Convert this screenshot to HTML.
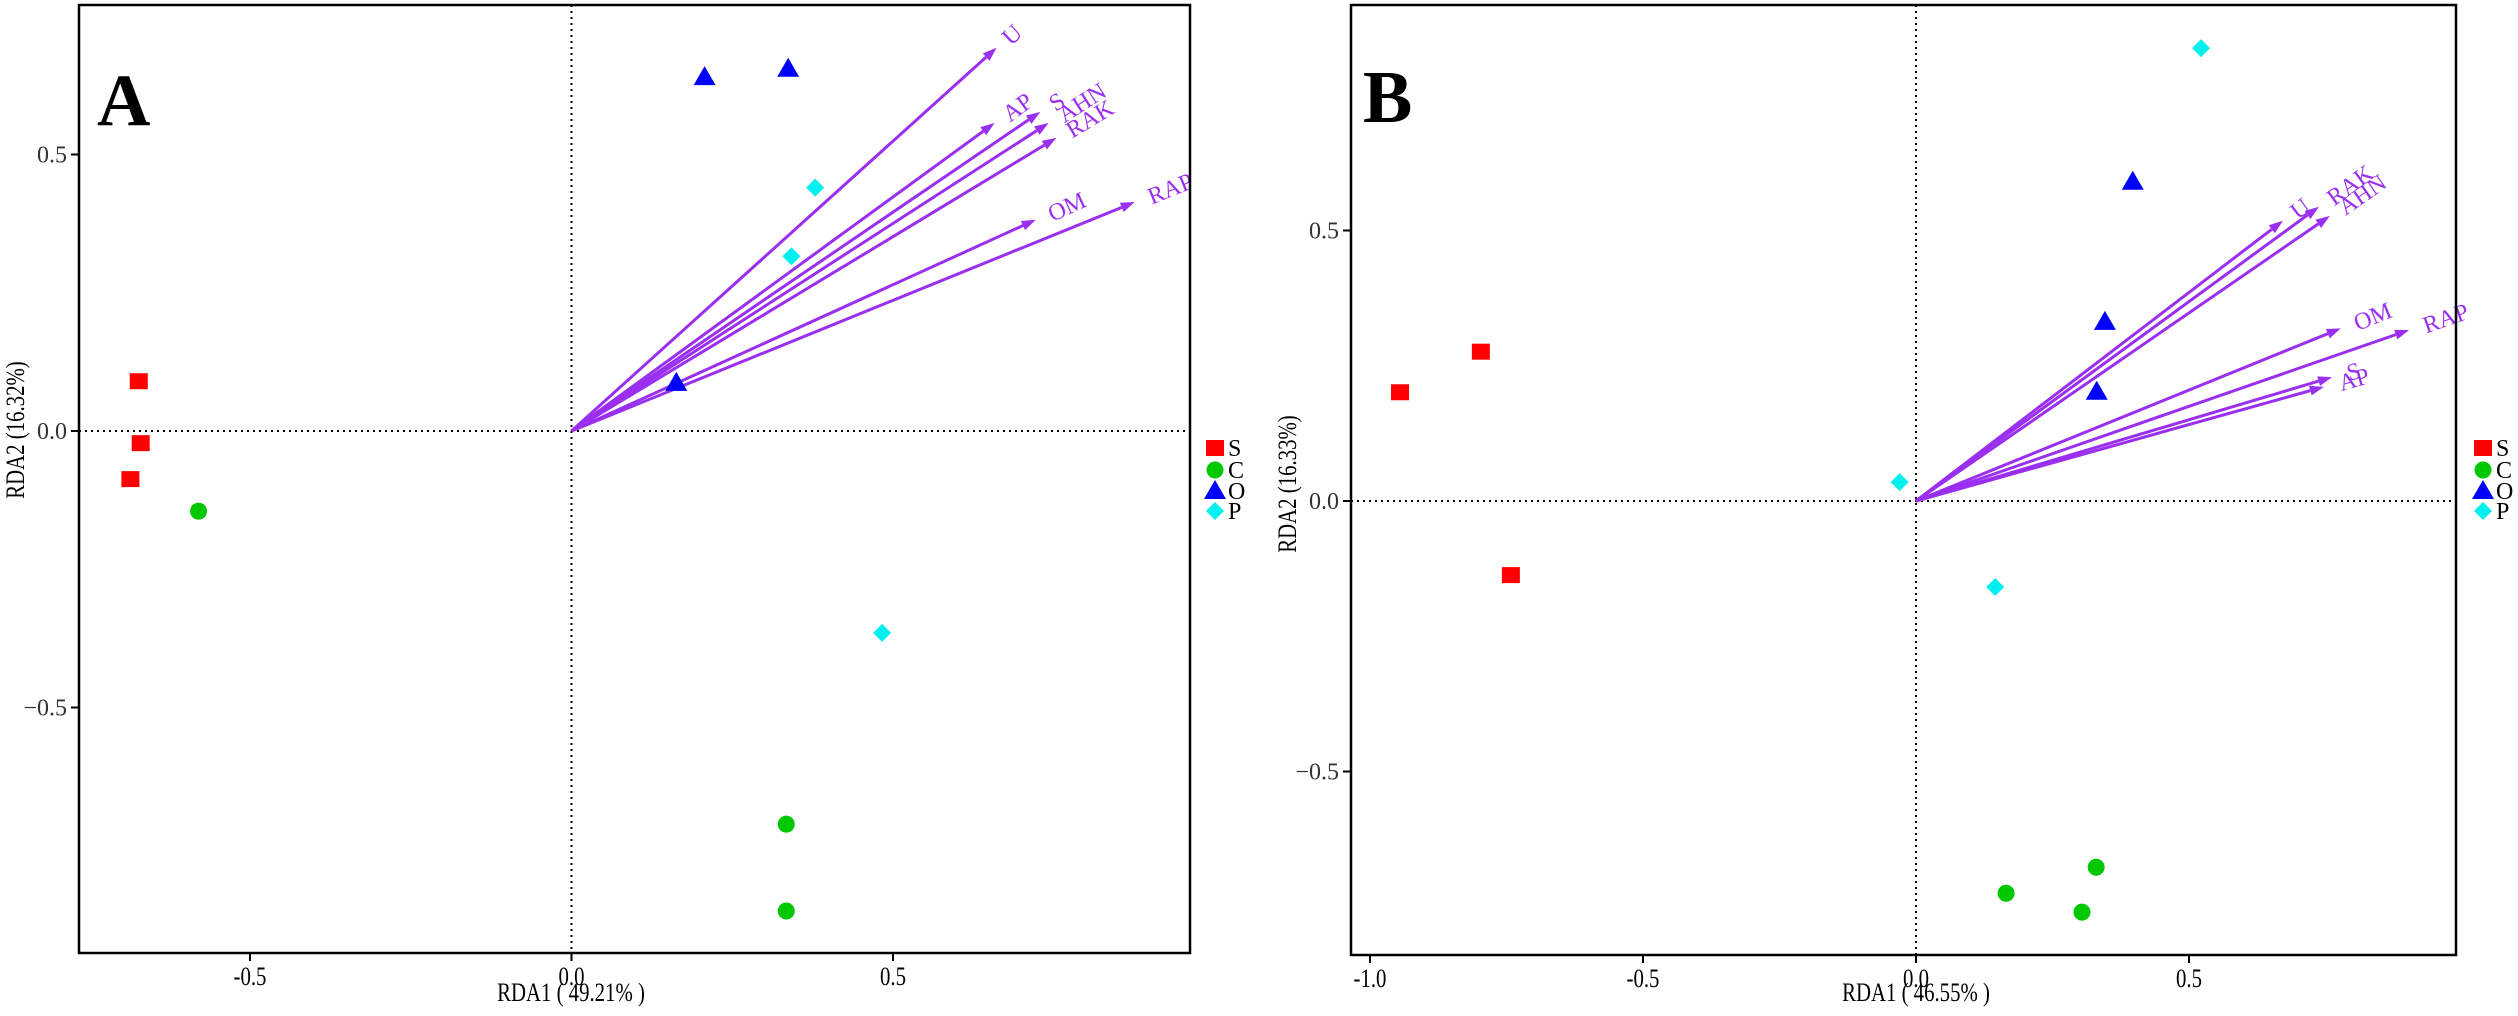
<!DOCTYPE html>
<html><head><meta charset="utf-8"><style>
html,body{margin:0;padding:0;background:#fff;}
svg{display:block;}
text{font-family:"Liberation Serif",serif;}
</style></head><body>
<svg id="c" width="2518" height="1016" viewBox="0 0 2518 1016" xmlns="http://www.w3.org/2000/svg"></svg>
<script>
// ---- Panel A data ----
const groups = ["S","C","O","P"];
const aGroupOf = ["S","S","S","C","C","C","O","O","O","P","P","P"];
const aX = [-0.673,-0.670,-0.686,-0.580,0.334,0.334,0.207,0.337,0.163,0.379,0.342,0.483];
const aY = [0.090,-0.022,-0.087,-0.145,-0.711,-0.868,0.640,0.655,0.087,0.440,0.316,-0.365];
const aVarNames = ["U","AP","S","AHN","RAK","OM","RAP"];
const aVarX = [0.661,0.658,0.729,0.742,0.754,0.722,0.876];
const aVarY = [0.693,0.557,0.577,0.557,0.530,0.382,0.414];
const aXTicks = [-0.5,0.0,0.5];
const aYTicks = [0.5,0.0,-0.5];
// ---- Panel B data ----
const bGroupOf = ["S","S","S","C","C","C","O","O","O","P","P","P"];
const bX = [-0.945,-0.797,-0.742,0.165,0.304,0.330,0.397,0.346,0.331,0.522,-0.030,0.145];
const bY = [0.201,0.276,-0.137,-0.725,-0.760,-0.677,0.590,0.331,0.202,0.837,0.035,-0.159];
const bVarNames = ["U","RAK","AHN","OM","RAP","S","AP"];
const bVarX = [0.672,0.738,0.758,0.778,0.903,0.762,0.747];
const bVarY = [0.518,0.544,0.527,0.319,0.316,0.229,0.211];
const bXTicks = [-1.0,-0.5,0.0,0.5];
const bYTicks = [0.5,0.0,-0.5];

const NS="http://www.w3.org/2000/svg";
const svg=document.getElementById('c');
function mk(tag,attrs,parent){const e=document.createElementNS(NS,tag);for(const k in attrs)e.setAttribute(k,attrs[k]);(parent||svg).appendChild(e);return e;}
const PURPLE="#9a2ff0";
const colors={S:"#ff0000",C:"#00c800",O:"#0000ff",P:"#00f0f0"};

function marker(g,grp,cx,cy,parent){
  let e;
  if(g==="S"){e=mk('rect',{x:cx-9,y:cy-8,width:18,height:16,fill:colors.S},parent);}
  else if(g==="C"){e=mk('circle',{cx:cx,cy:cy,r:8.5,fill:colors.C},parent);}
  else if(g==="O"){e=mk('polygon',{points:`${cx},${cy-11} ${cx-11},${cy+8} ${cx+11},${cy+8}`,fill:colors.O},parent);}
  else {e=mk('polygon',{points:`${cx},${cy-9} ${cx+9},${cy} ${cx},${cy+9} ${cx-9},${cy}`,fill:colors.P},parent);}
  return e;
}

function panel(o){
  const g=mk('g',{});
  
  
  const sx=v=>o.x0+v*o.ux, sy=v=>o.y0-v*o.uy;
  // reference lines
  const vl=mk('line',{x1:sx(0),y1:o.top,x2:sx(0),y2:o.bot,stroke:"#000","stroke-width":2,"stroke-dasharray":"2,4"},g);
  
  
  const hl=mk('line',{x1:o.left,y1:sy(0),x2:o.right,y2:sy(0),stroke:"#000","stroke-width":2,"stroke-dasharray":"2,4"},g);
  
  
  // arrows
  o.vn.forEach((n,i)=>{
    const x1=sx(0),y1=sy(0),x2=sx(o.vx[i]),y2=sy(o.vy[i]);
    const ang=Math.atan2(y2-y1,x2-x1);
    const L=14,W=5;
    const bx=x2-L*Math.cos(ang),by=y2-L*Math.sin(ang);
    const ar=mk('g',{},g);
    
    
    mk('line',{x1:x1,y1:y1,x2:bx,y2:by,stroke:PURPLE,"stroke-width":3},ar);
    mk('polygon',{points:`${x2},${y2} ${bx-W*Math.sin(ang)},${by+W*Math.cos(ang)} ${bx+W*Math.sin(ang)},${by-W*Math.cos(ang)}`,fill:PURPLE},ar);
    const lx=x2+14*Math.cos(ang)+4, ly=y2+14*Math.sin(ang)+8;
    const deg=ang*180/Math.PI;
    const t=mk('text',{x:lx,y:ly,fill:PURPLE,"font-size":24,transform:`rotate(${deg} ${lx} ${ly})`},ar);
    t.textContent=n;
    
    
  });
  // points
  o.px.forEach((v,i)=>{
    const e=marker(o.grp[i],o.grp[i],sx(v),sy(o.py[i]),g);
    
    
  });
  // frame
  const fr=mk('rect',{x:o.left,y:o.top,width:o.right-o.left,height:o.bot-o.top,fill:"none",stroke:"#000","stroke-width":2.5},g);
  
  
  // ticks
  o.xt.forEach(v=>{
    const x=sx(v);
    mk('line',{x1:x,y1:o.bot,x2:x,y2:o.bot+8,stroke:"#000","stroke-width":2},g);
    const t=mk('text',{x:x,y:o.bot+32,"text-anchor":"middle","font-size":26,fill:"#000",transform:`translate(${x} 0) scale(0.8 1) translate(${-x} 0)`},g);
    t.textContent=v.toFixed(1).replace('-','\u2212').replace('\u2212','-');
    
    
  });
  o.yt.forEach(v=>{
    const y=sy(v);
    mk('line',{x1:o.left-8,y1:y,x2:o.left,y2:y,stroke:"#000","stroke-width":2},g);
    const t=mk('text',{x:o.left-12,y:y+8,"text-anchor":"end","font-size":24,fill:"#333"},g);
    t.textContent=(v<0?'\u2212':'')+Math.abs(v).toFixed(1);
    
    
  });
  // axis titles
  const cx=(o.left+o.right)/2;
  const xt=mk('text',{x:o.xtx,y:1001,"text-anchor":"middle","font-size":26,fill:"#000",transform:`translate(${o.xtx} 0) scale(0.8 1) translate(${-o.xtx} 0)`},g);
  xt.textContent=o.xtitle;
  
  
  const yt=mk('text',{x:0,y:0,"text-anchor":"middle","font-size":26,fill:"#000",transform:`translate(${o.ytx} ${o.yty}) rotate(-90) scale(0.8 1)`},g);
  yt.textContent=o.ytitle;
  
  
  // panel letter
  const pl=mk('text',{x:o.lx,y:o.ly,"font-size":74,"font-weight":"bold",fill:"#000"},g);
  pl.textContent=o.letter;
  
  
  // legend
  const lg=mk('g',{},g);
  
  
  const ly=[448,470,491,511];
  groups.forEach((gr,i)=>{
    const en=mk('g',{},lg);
    
    
    marker(gr,gr,o.legx,ly[i],en);
    const t=mk('text',{x:o.legx+13,y:ly[i]+8,"font-size":24,fill:"#000"},en);
    t.textContent=gr;
  });
}

panel({name:'panel-a',left:79,right:1190,top:5,bot:953,x0:571.5,ux:643,y0:431,uy:553,
  px:aX,py:aY,grp:aGroupOf,vn:aVarNames,vx:aVarX,vy:aVarY,xt:aXTicks,yt:aYTicks,
  xtitle:"RDA1 ( 49.21% )",ytitle:"RDA2 (16.32%)",xtx:571,ytx:24,yty:430,letter:"A",lx:97,ly:125,legx:1215});
panel({name:'panel-b',left:1351,right:2456,top:5,bot:955,x0:1916,ux:546,y0:501,uy:541,
  px:bX,py:bY,grp:bGroupOf,vn:bVarNames,vx:bVarX,vy:bVarY,xt:bXTicks,yt:bYTicks,
  xtitle:"RDA1 ( 46.55% )",ytitle:"RDA2 (16.33%)",xtx:1916,ytx:1296,yty:484,letter:"B",lx:1363,ly:122,legx:2483});
</script>
</body></html>
